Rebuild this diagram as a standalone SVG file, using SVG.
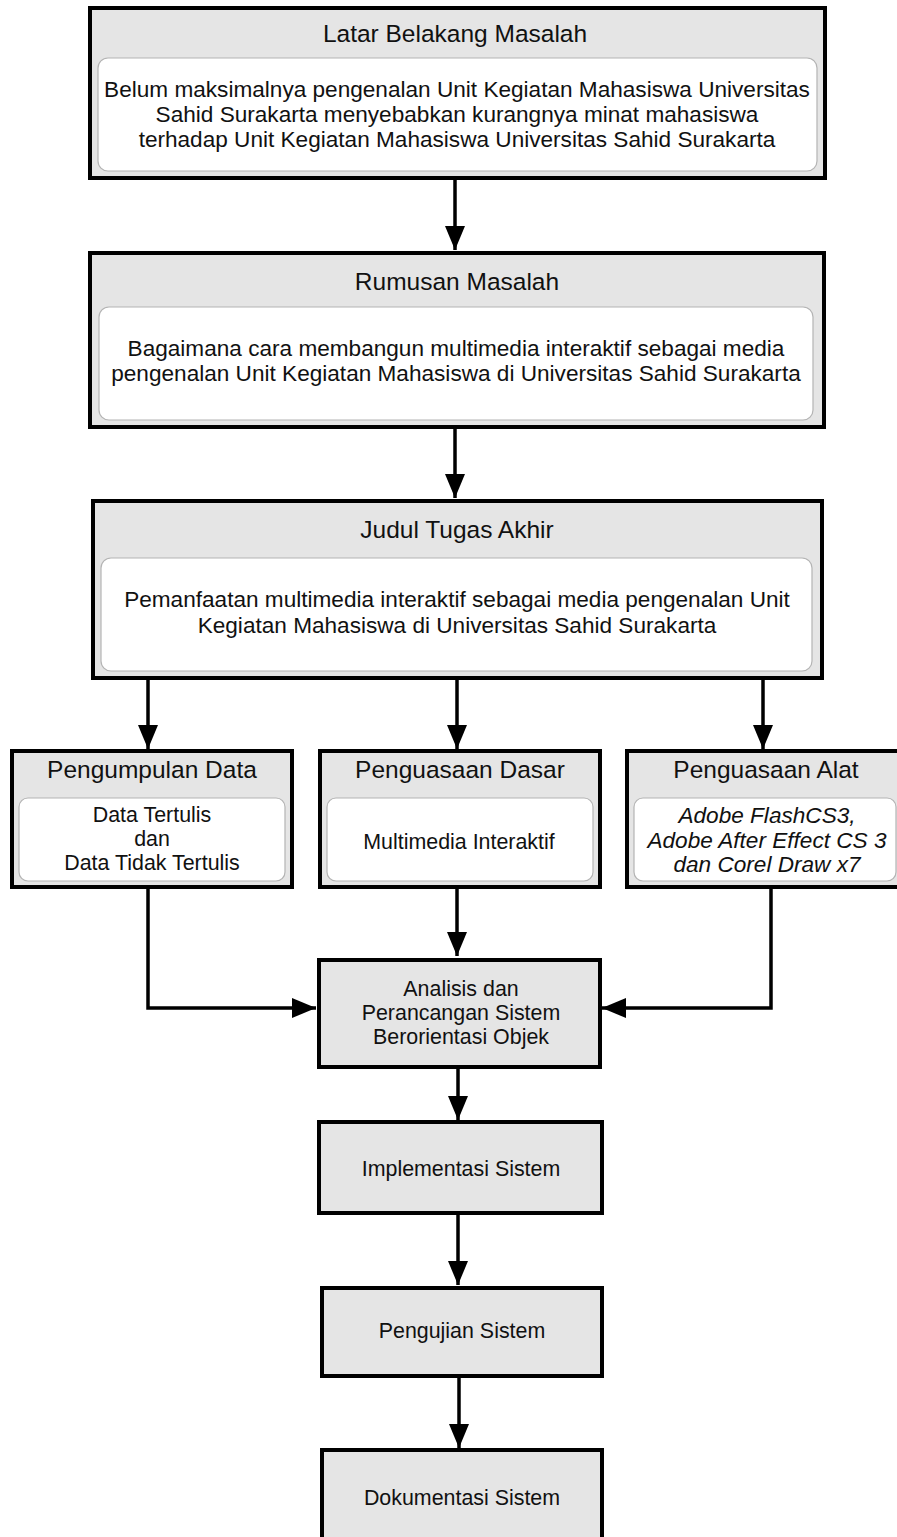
<svg xmlns="http://www.w3.org/2000/svg" width="897" height="1537" viewBox="0 0 897 1537">
<style>
.box{fill:#e5e5e5;stroke:#000;stroke-width:4}
.inner{fill:#fff;stroke:#b4b4b4;stroke-width:1.2}
text{font-family:"Liberation Sans",Arial,sans-serif;fill:#111;text-anchor:middle}
.t{font-size:24.5px}
.b{font-size:22.6px}
.s{font-size:21.4px}
.i{font-size:22.6px;font-style:italic}
.c{fill:none;stroke:#000;stroke-width:3.5}
</style>
<defs>
<marker id="ah" markerUnits="userSpaceOnUse" markerWidth="24" markerHeight="20" viewBox="0 0 24 20" refX="24" refY="10" orient="auto">
<path d="M0,0 L24,10 L0,20 z" fill="#000"/>
</marker>
</defs>
<rect width="897" height="1537" fill="#fff"/>
<g id="connectors">
<path class="c" d="M455,180 V250" marker-end="url(#ah)"/>
<path class="c" d="M455,429 V498" marker-end="url(#ah)"/>
<path class="c" d="M148,680 V749" marker-end="url(#ah)"/>
<path class="c" d="M457,680 V749" marker-end="url(#ah)"/>
<path class="c" d="M763,680 V749" marker-end="url(#ah)"/>
<path class="c" d="M457,889 V956" marker-end="url(#ah)"/>
<path class="c" d="M148,889 V1008 H316" marker-end="url(#ah)"/>
<path class="c" d="M771,889 V1008 H602" marker-end="url(#ah)"/>
<path class="c" d="M458,1068 V1120" marker-end="url(#ah)"/>
<path class="c" d="M458,1215 V1285" marker-end="url(#ah)"/>
<path class="c" d="M459,1378 V1448" marker-end="url(#ah)"/>
</g>
<g id="latar">
<rect class="box" x="90" y="8" width="735" height="170"/>
<text class="t" x="455" y="42">Latar Belakang Masalah</text>
<rect class="inner" x="98" y="58" width="719" height="113" rx="10"/>
<text class="b" x="457" y="97">Belum maksimalnya pengenalan Unit Kegiatan Mahasiswa Universitas</text>
<text class="b" x="457" y="122">Sahid Surakarta menyebabkan kurangnya minat mahasiswa</text>
<text class="b" x="457" y="147">terhadap Unit Kegiatan Mahasiswa Universitas Sahid Surakarta</text>
</g>
<g id="rumusan">
<rect class="box" x="90" y="253" width="734" height="174"/>
<text class="t" x="457" y="290">Rumusan Masalah</text>
<rect class="inner" x="99" y="307" width="714" height="113" rx="10"/>
<text class="b" x="456" y="356">Bagaimana cara membangun multimedia interaktif sebagai media</text>
<text class="b" x="456" y="381">pengenalan Unit Kegiatan Mahasiswa di Universitas Sahid Surakarta</text>
</g>
<g id="judul">
<rect class="box" x="93" y="501" width="729" height="177"/>
<text class="t" x="457" y="538">Judul Tugas Akhir</text>
<rect class="inner" x="101" y="558" width="711" height="113" rx="10"/>
<text class="b" x="457" y="607">Pemanfaatan multimedia interaktif sebagai media pengenalan Unit</text>
<text class="b" x="457" y="633">Kegiatan Mahasiswa di Universitas Sahid Surakarta</text>
</g>
<g id="pengumpulan">
<rect class="box" x="12" y="751" width="280" height="136"/>
<text class="t" x="152" y="778">Pengumpulan Data</text>
<rect class="inner" x="19" y="798" width="266" height="83" rx="9"/>
<text class="s" x="152" y="822">Data Tertulis</text>
<text class="s" x="152" y="846">dan</text>
<text class="s" x="152" y="870">Data Tidak Tertulis</text>
</g>
<g id="dasar">
<rect class="box" x="320" y="751" width="280" height="136"/>
<text class="t" x="460" y="778">Penguasaan Dasar</text>
<rect class="inner" x="327" y="798" width="266" height="83" rx="9"/>
<text class="s" x="459" y="849">Multimedia Interaktif</text>
</g>
<g id="alat">
<rect class="box" x="627" y="751" width="292" height="136"/>
<text class="t" x="766" y="778">Penguasaan Alat</text>
<rect class="inner" x="634" y="798" width="262" height="83" rx="9"/>
<text class="i" x="767" y="823">Adobe FlashCS3,</text>
<text class="i" x="767" y="848">Adobe After Effect CS 3</text>
<text class="i" x="767" y="872">dan Corel Draw x7</text>
</g>
<g id="analisis">
<rect class="box" x="319" y="960" width="281" height="107"/>
<text class="s" x="461" y="996">Analisis dan</text>
<text class="s" x="461" y="1020">Perancangan Sistem</text>
<text class="s" x="461" y="1044">Berorientasi Objek</text>
</g>
<g id="implementasi">
<rect class="box" x="319" y="1122" width="283" height="91"/>
<text class="s" x="461" y="1176">Implementasi Sistem</text>
</g>
<g id="pengujian">
<rect class="box" x="322" y="1288" width="280" height="88"/>
<text class="s" x="462" y="1338">Pengujian Sistem</text>
</g>
<g id="dokumentasi">
<rect class="box" x="322" y="1450" width="280" height="100"/>
<text class="s" x="462" y="1505">Dokumentasi Sistem</text>
</g>
</svg>
